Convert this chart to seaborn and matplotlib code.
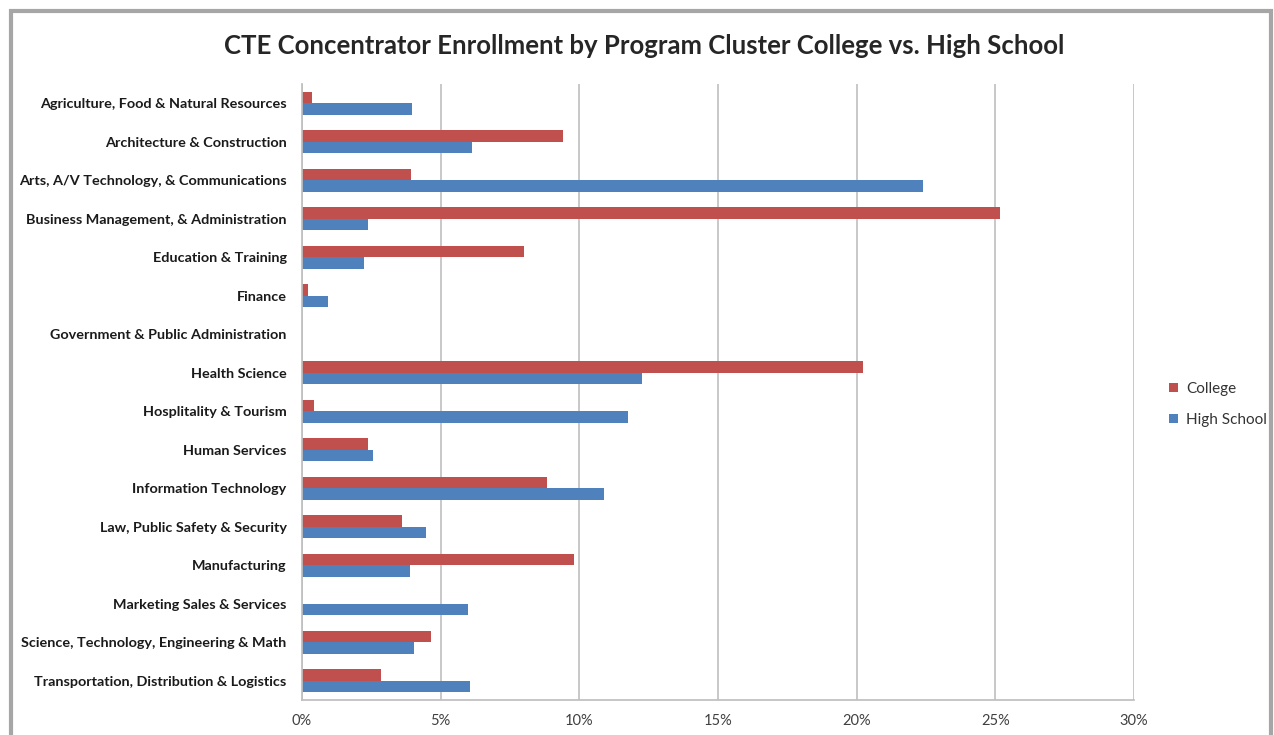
import matplotlib
matplotlib.use("Agg")
import matplotlib.pyplot as plt
import seaborn as sns
import pandas as pd
from matplotlib.patches import Rectangle
from matplotlib.ticker import PercentFormatter

categories = [
    "Agriculture, Food & Natural Resources",
    "Architecture & Construction",
    "Arts, A/V Technology, & Communications",
    "Business Management, & Administration",
    "Education & Training",
    "Finance",
    "Government & Public Administration",
    "Health Science",
    "Hosplitality & Tourism",
    "Human Services",
    "Information Technology",
    "Law, Public Safety & Security",
    "Manufacturing",
    "Marketing Sales & Services",
    "Science, Technology, Engineering & Math",
    "Transportation, Distribution & Logistics",
]
college = [0.35, 9.41, 3.94, 25.18, 8.01, 0.23, 0.0, 20.22, 0.44, 2.39, 8.84, 3.61, 9.80, 0.0, 4.66, 2.85]
high_school = [3.97, 6.15, 22.38, 2.37, 2.22, 0.94, 0.0, 12.27, 11.76, 2.58, 10.89, 4.47, 3.90, 6.00, 4.03, 6.06]
series_names = ["College", "High School"]
x_ticks = [0, 5, 10, 15, 20, 25, 30]

df = pd.DataFrame({
    "Cluster": categories * 2,
    "Series": [series_names[0]] * len(categories) + [series_names[1]] * len(categories),
    "Value": college + high_school,
})

sns.set_theme(style="white")
plt.rcParams["font.family"] = ["Lato", "DejaVu Sans"]

fig = plt.figure(figsize=(12.74, 7.35), dpi=100)
fig.patch.set_facecolor("white")
ax = fig.add_axes([0.237, 0.0476, 0.653, 0.838])

sns.barplot(data=df, y="Cluster", x="Value", hue="Series", order=categories,
            hue_order=series_names, palette=["#C0504D", "#4F81BD"],
            orient="h", width=0.6, ax=ax, saturation=1.0, legend=True,
            linewidth=0)

ax.set_xlim(0, 30)
ax.set_xticks(x_ticks)
ax.xaxis.set_major_formatter(PercentFormatter(decimals=0))
ax.grid(axis="x", color="#BFBFBF", linewidth=1.2)
ax.set_axisbelow(True)
ax.set_xlabel("")
ax.set_ylabel("")
for s in ["top", "right"]:
    ax.spines[s].set_visible(False)
ax.spines["left"].set_color("#BFBFBF")
ax.spines["bottom"].set_color("#BFBFBF")
ax.tick_params(axis="y", length=0, pad=11, labelsize=10.4)
ax.tick_params(axis="x", length=0, pad=10, labelsize=10.5, labelcolor="#404040")
for lbl in ax.get_yticklabels():
    lbl.set_fontweight("bold")
    lbl.set_color("#1a1a1a")

leg = ax.legend(loc="center left", bbox_to_anchor=(1.035, 0.48), frameon=False,
                fontsize=11, handlelength=0.6, handleheight=0.6,
                labelspacing=1.1, handletextpad=0.5, borderaxespad=0)
for t in leg.get_texts():
    t.set_color("#333333")

fig.text(0.506, 0.937, "CTE Concentrator Enrollment by Program Cluster College vs. High School",
         ha="center", va="center", fontsize=18.5, fontweight="bold")

fig.patches.append(Rectangle((0.0085, -0.05), 0.989, 1.035, transform=fig.transFigure,
                             fill=False, edgecolor="#A6A6A6", linewidth=3, zorder=-1))

fig.savefig("out.png", dpi=100, facecolor="white")
